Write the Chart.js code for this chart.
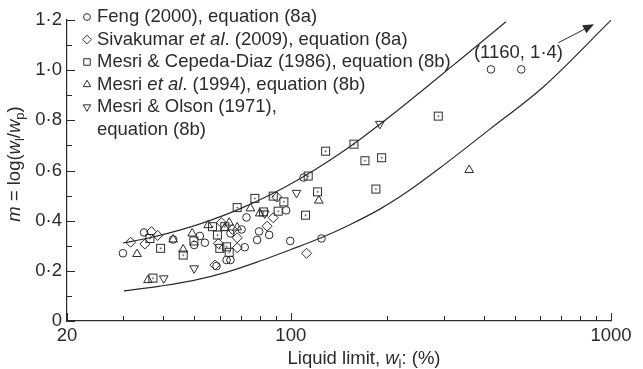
<!DOCTYPE html>
<html>
<head>
<meta charset="utf-8">
<script src="https://cdn.jsdelivr.net/npm/chart.js@4.4.0/dist/chart.umd.min.js"></script>
<style>
  html, body { margin: 0; padding: 0; background: #fff; }
</style>
</head>
<body>
<canvas id="chart" width="643" height="369"></canvas>
<script>
const FONT = "'Liberation Sans', Arial, Helvetica, sans-serif";
const INK = '#2b2b2b';

// Feng (2000), equation (8a)  -- circles
const fengX = [29.9, 34.8, 42.9, 49.9, 52.0, 53.9, 63.0, 64.8, 58.6, 70.2, 64.8, 72.7, 71.8, 78.5, 79.6, 85.6, 96.7, 99.6, 124.7, 109.6, 421.7, 524.5];
const fengY = [0.270, 0.353, 0.325, 0.303, 0.339, 0.312, 0.243, 0.243, 0.219, 0.365, 0.349, 0.413, 0.294, 0.323, 0.357, 0.343, 0.441, 0.319, 0.329, 0.572, 1.003, 1.003];

// Sivakumar et al. (2009), equation (8a)  -- diamonds
const sivX = [31.6, 35.0, 36.7, 38.4, 57.9, 60.7, 65.7, 68.0, 68.0, 59.4, 84.3, 88.1, 90.4, 112];
const sivY = [0.314, 0.307, 0.356, 0.341, 0.223, 0.392, 0.365, 0.332, 0.292, 0.309, 0.378, 0.412, 0.494, 0.270];

// Mesri & Cepeda-Diaz (1986), equation (8b)  -- squares
const cepX = [37.1, 36.3, 39.2, 46.1, 49.8, 56.9, 62.2, 59.0, 60.0, 63.0, 64.2, 68.0, 77.2, 82.1, 88.1, 95.1, 91.3, 111.1, 121.2, 113.3, 128.4, 157.4, 170.4, 192.1, 184.3, 288.6];
const cepY = [0.171, 0.329, 0.290, 0.263, 0.319, 0.376, 0.376, 0.343, 0.290, 0.296, 0.274, 0.452, 0.489, 0.435, 0.498, 0.475, 0.438, 0.422, 0.515, 0.578, 0.677, 0.705, 0.639, 0.651, 0.526, 0.817];

// Mesri et al. (1994), equation (8b)  -- triangles
const mesX = [33.1, 35.8, 42.9, 46.1, 49.2, 55.2, 62.2, 64.2, 68.0, 74.8, 80.0, 122.3, 360.7];
const mesY = [0.267, 0.163, 0.325, 0.285, 0.349, 0.382, 0.371, 0.392, 0.373, 0.449, 0.429, 0.480, 0.602];

// Mesri & Olson (1971), equation (8b)  -- inverted triangles
const olsX = [40.1, 49.9, 82.9, 104.2, 189.7];
const olsY = [0.170, 0.210, 0.429, 0.511, 0.786];

// bounding curves
const upperX = [29.9, 36.3, 45.0, 55.8, 69.3, 86.0, 106.7, 132.4, 164.3, 203.9, 253.0, 314.0, 389.6, 469.7];
const upperY = [0.311, 0.332, 0.362, 0.400, 0.447, 0.502, 0.567, 0.641, 0.724, 0.815, 0.911, 1.009, 1.107, 1.193];
const lowerX = [30.1, 39.0, 49.4, 63.1, 80.0, 100, 125.0, 152.9, 189.7, 235.4, 292.1, 418.7, 613.1, 1000];
const lowerY = [0.120, 0.139, 0.161, 0.195, 0.239, 0.285, 0.333, 0.384, 0.446, 0.522, 0.610, 0.765, 0.932, 1.199];

// ticks
const xTickValues = [20, 30, 40, 50, 60, 70, 80, 90, 100, 200, 300, 400, 500, 600, 700, 800, 900, 1000];
const xTickLabels = ['20', '', '', '', '', '', '', '', '100', '', '', '', '', '', '', '', '', '1000'];
const yTickValues = [0, 0.1, 0.2, 0.3, 0.4, 0.5, 0.6, 0.7, 0.8, 0.9, 1.0, 1.1, 1.2];
const yTickLabels = ['0', '', '0·2', '', '0·4', '', '0·6', '', '0·8', '', '1·0', '', '1·2'];

// off-scale point (1160, 1.4) annotation
const arrowFrom = [684, 1.109];
const arrowTo = [885, 1.183];
const arrowText = '(1160, 1·4)';
const arrowTextAt = [514, 1.070];

const legendItems = [
  { style: 'circle', r: 3.4, rot: 0, lines: [[['Feng (2000), equation (8a)', 'n']]] },
  { style: 'rectRot', r: 4.3, rot: 0, lines: [[['Sivakumar ', 'n'], ['et al', 'i'], ['. (2009), equation (8a)', 'n']]] },
  { style: 'rect', r: 4.6, rot: 0, lines: [[['Mesri & Cepeda-Diaz (1986), equation (8b)', 'n']]] },
  { style: 'triangle', r: 4.3, rot: 0, lines: [[['Mesri ', 'n'], ['et al', 'i'], ['. (1994), equation (8b)', 'n']]] },
  { style: 'triangle', r: 4.3, rot: 180, lines: [[['Mesri & Olson (1971),', 'n']], [['equation (8b)', 'n']]] }
];
const xTitle = [['Liquid limit, ', 'n'], ['w', 'i'], ['l', 's'], [': (%)', 'n']];
const yTitle = [['m', 'i'], [' = log(', 'n'], ['w', 'i'], ['l', 's'], ['/', 'n'], ['w', 'i'], ['p', 's'], [')', 'n']];

const pts = (xs, ys) => xs.map((x, i) => ({ x: x, y: ys[i] }));

// square marker with a centre dot
const squareMark = document.createElement('canvas');
squareMark.width = 11; squareMark.height = 11;
(function () {
  const c = squareMark.getContext('2d');
  c.strokeStyle = INK; c.lineWidth = 1;
  c.strokeRect(1.5, 1.5, 8, 8);
  c.fillStyle = INK;
  c.fillRect(4.8, 4.8, 1.5, 1.5);
})();

const marks = (label, xs, ys, style, radius, rotation) => ({
  label: label,
  data: pts(xs, ys),
  pointStyle: style,
  pointRadius: radius,
  pointRotation: rotation || 0,
  pointBorderColor: INK,
  pointBackgroundColor: 'rgba(0,0,0,0)',
  pointBorderWidth: 1,
  showLine: false
});

const curve = (label, xs, ys) => ({
  label: label,
  data: pts(xs, ys),
  showLine: true,
  borderColor: INK,
  borderWidth: 1.2,
  pointRadius: 0,
  cubicInterpolationMode: 'monotone',
  fill: false
});

function partFont(style, size) {
  if (style === 'i') return 'italic ' + size + 'px ' + FONT;
  if (style === 's') return Math.round(size * 0.68) + 'px ' + FONT;
  return size + 'px ' + FONT;
}

function drawRich(ctx, parts, x, y, size, align) {
  let total = 0;
  parts.forEach(p => { ctx.font = partFont(p[1], size); total += ctx.measureText(p[0]).width; });
  let cx = align === 'center' ? x - total / 2 : x;
  parts.forEach(p => {
    ctx.font = partFont(p[1], size);
    ctx.fillText(p[0], cx, p[1] === 's' ? y + size * 0.3 : y);
    cx += ctx.measureText(p[0]).width;
  });
}

const decorations = {
  id: 'decorations',
  afterDraw(chart) {
    const ctx = chart.ctx;
    const xs = chart.scales.x, ys = chart.scales.y;
    const size = 18.5;
    ctx.save();
    ctx.strokeStyle = INK;
    ctx.fillStyle = INK;
    ctx.lineWidth = 1;

    // inward tick marks
    xs.ticks.forEach(t => {
      const px = Math.round(xs.getPixelForValue(t.value)) + 0.5;
      const len = xTickLabels[xTickValues.indexOf(t.value)] ? 8 : 5;
      ctx.beginPath(); ctx.moveTo(px, ys.bottom); ctx.lineTo(px, ys.bottom - len); ctx.stroke();
    });
    ys.ticks.forEach(t => {
      const py = Math.round(ys.getPixelForValue(t.value)) + 0.5;
      const k = yTickValues.findIndex(v => Math.abs(v - t.value) < 1e-6);
      const len = yTickLabels[k] ? 8 : 5;
      ctx.beginPath(); ctx.moveTo(xs.left, py); ctx.lineTo(xs.left + len, py); ctx.stroke();
    });

    ctx.textBaseline = 'middle';
    ctx.textAlign = 'left';

    // axis titles
    drawRich(ctx, xTitle, 364, 359, size, 'center');
    ctx.save();
    ctx.translate(15, 164);
    ctx.rotate(-Math.PI / 2);
    drawRich(ctx, yTitle, 0, 0, size, 'center');
    ctx.restore();

    // legend
    let row = 17;
    legendItems.forEach(item => {
      ctx.fillStyle = 'rgba(0,0,0,0)';
      Chart.helpers.drawPoint(ctx, { pointStyle: item.style, radius: item.r, rotation: item.rot, borderWidth: 1 }, 87, row);
      ctx.fillStyle = INK;
      item.lines.forEach(line => {
        drawRich(ctx, line, 97, row, size, 'left');
        row += 22.5;
      });
    });

    // arrow towards the off-scale point
    const ax = xs.getPixelForValue(arrowFrom[0]), ay = ys.getPixelForValue(arrowFrom[1]);
    const bx = xs.getPixelForValue(arrowTo[0]), by = ys.getPixelForValue(arrowTo[1]);
    const ang = Math.atan2(by - ay, bx - ax);
    const head = 11, half = 4.5;
    ctx.beginPath();
    ctx.moveTo(ax, ay);
    ctx.lineTo(bx - Math.cos(ang) * head, by - Math.sin(ang) * head);
    ctx.stroke();
    ctx.beginPath();
    ctx.moveTo(bx, by);
    ctx.lineTo(bx - Math.cos(ang) * head - Math.sin(ang) * half, by - Math.sin(ang) * head + Math.cos(ang) * half);
    ctx.lineTo(bx - Math.cos(ang) * head + Math.sin(ang) * half, by - Math.sin(ang) * head - Math.cos(ang) * half);
    ctx.closePath();
    ctx.fill();

    ctx.font = size + 'px ' + FONT;
    ctx.textAlign = 'center';
    ctx.fillText(arrowText, xs.getPixelForValue(arrowTextAt[0]), ys.getPixelForValue(arrowTextAt[1]));
    ctx.restore();
  }
};

new Chart(document.getElementById('chart'), {
  type: 'scatter',
  data: {
    datasets: [
      curve('upper bound', upperX, upperY),
      curve('lower bound', lowerX, lowerY),
      marks('Feng (2000)', fengX, fengY, 'circle', 3.8),
      marks('Sivakumar et al. (2009)', sivX, sivY, 'rectRot', 5),
      marks('Mesri & Cepeda-Diaz (1986)', cepX, cepY, squareMark, 5),
      marks('Mesri et al. (1994)', mesX, mesY, 'triangle', 5),
      marks('Mesri & Olson (1971)', olsX, olsY, 'triangle', 5, 180)
    ]
  },
  options: {
    responsive: false,
    animation: false,
    devicePixelRatio: 1,
    layout: { padding: { left: 0, top: 20, right: 32, bottom: 0 } },
    plugins: { legend: { display: false }, tooltip: { enabled: false } },
    scales: {
      x: {
        type: 'logarithmic',
        min: 20,
        max: 1000,
        afterBuildTicks: s => { s.ticks = xTickValues.map(v => ({ value: v })); },
        afterFit: s => { s.height = 48; },
        grid: { drawOnChartArea: false, drawTicks: false },
        border: { display: true, color: INK, width: 1.2 },
        ticks: {
          autoSkip: false,
          maxRotation: 0,
          padding: 4,
          color: INK,
          font: { family: FONT, size: 18.5 },
          callback: v => xTickLabels[xTickValues.indexOf(v)] || ''
        }
      },
      y: {
        type: 'linear',
        min: 0,
        max: 1.2,
        afterBuildTicks: s => { s.ticks = yTickValues.map(v => ({ value: v })); },
        afterFit: s => { s.width = 67; },
        grid: { drawOnChartArea: false, drawTicks: false },
        border: { display: true, color: INK, width: 1.2 },
        ticks: {
          autoSkip: false,
          padding: 5,
          color: INK,
          font: { family: FONT, size: 18.5 },
          callback: v => yTickLabels[yTickValues.findIndex(t => Math.abs(t - v) < 1e-6)] || ''
        }
      }
    }
  },
  plugins: [decorations]
});
</script>
</body>
</html>
